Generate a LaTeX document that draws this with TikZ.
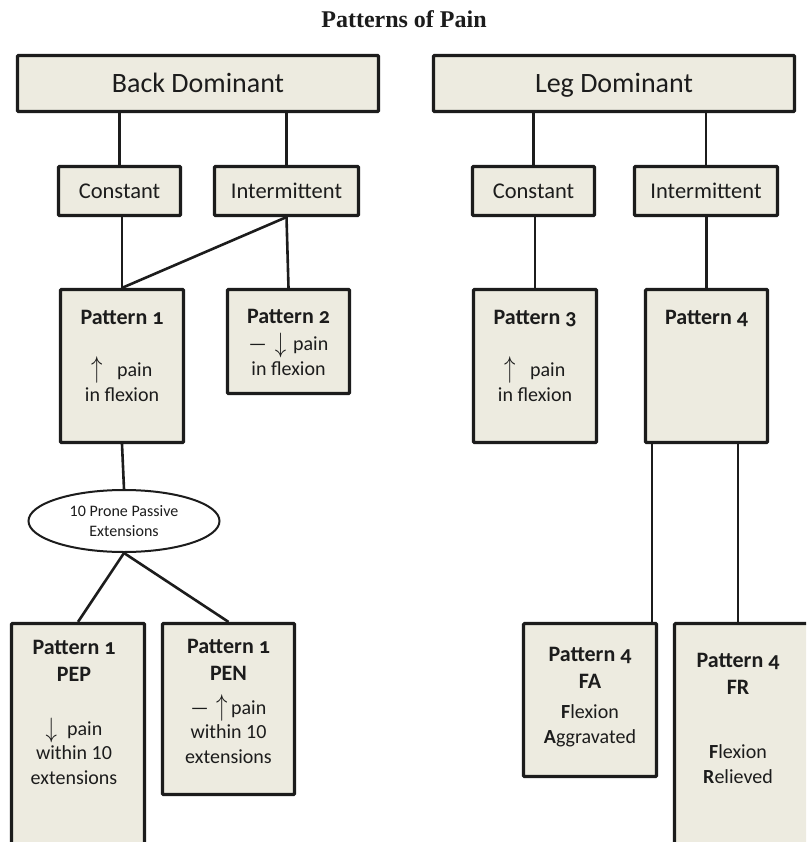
\documentclass[tikz,border=0pt]{standalone}
\usepackage{fontspec}
\setmainfont{Carlito}
\newfontfamily\titlefont{Liberation Serif}
\usetikzlibrary{shapes.geometric}

\definecolor{boxbg}{HTML}{EDEBE0}
\definecolor{ink}{HTML}{1C1C1C}

\newcommand{\ptl}[1]{{\fontsize{22}{24.5}\selectfont\bfseries\addfontfeatures{Numbers=OldStyle}#1}}
\newcommand{\upar}{\raisebox{-1pt}{\scalebox{1.1}[1.45]{$\uparrow$}}}
\newcommand{\dnar}{\raisebox{-2pt}{\scalebox{1.1}[1.35]{$\downarrow$}}}

\tikzset{
  pbox/.style={draw=ink, line width=3.2pt, fill=boxbg, rounded corners=1pt, inner sep=0pt, text=ink},
  headbox/.style={pbox, minimum width=361, minimum height=56, text height=19pt, text depth=0pt, font=\fontsize{28}{32}\selectfont},
  kindbox/.style={pbox, minimum height=49, font=\fontsize{22.5}{26}\selectfont},
  ptext/.style={align=center, inner sep=0pt, text=ink, font=\fontsize{20}{24.5}\selectfont},
  conn/.style={draw=ink, line width=2.6pt},
}

\begin{document}
\begin{tikzpicture}[x=1pt, y=-1pt]
\path[use as bounding box, fill=white] (0,0) rectangle (806,842);
\clip (0,0) rectangle (806,842);

% title
\node[font=\titlefont\bfseries\fontsize{24}{28}\selectfont, anchor=base, text=ink, inner sep=0pt] (ttl) at (404,28) {Patterns of Pain};

% boxes
\node[headbox] (bd) at (198,83.5) {Back Dominant};
\node[headbox] (ld) at (614,83.5) {Leg Dominant};

\node[kindbox, minimum width=122] (c1) at (119.5,191) {Constant};
\node[kindbox, minimum width=144] (i1) at (286.5,191) {Intermittent};
\node[kindbox, minimum width=122] (c2) at (533.5,191) {Constant};
\node[kindbox, minimum width=143] (i2) at (706,191) {Intermittent};

\node[pbox, minimum width=123, minimum height=153] (pat1) at (122,366) {};
\node[pbox, minimum width=122, minimum height=104] (pat2) at (288.5,341.5) {};
\node[pbox, minimum width=123, minimum height=153] (pat3) at (535,366) {};
\node[pbox, minimum width=122, minimum height=153] (pat4) at (706.5,366) {};

\node[ellipse, draw=ink, line width=2pt, fill=white, minimum width=191, minimum height=62, inner sep=0pt,
      align=center, text=ink, font=\fontsize{16}{20}\selectfont] (ppe) at (124,521) {10 Prone Passive\\Extensions};

\node[pbox, minimum width=133, minimum height=275] (pep) at (78,761) {};
\node[pbox, minimum width=132, minimum height=171] (pen) at (228.5,709) {};
\node[pbox, minimum width=133, minimum height=153] (fa) at (590,700) {};
\node[pbox, minimum width=164, minimum height=275] (fr) at (756.5,761) {};

% box texts (base = last line)
\node[ptext, anchor=base] (pat1-t) at (122,401) {\ptl{Pattern 1}\\[28pt]\upar\hspace{14pt}pain\\in flexion};
\node[ptext, anchor=base] (pat2-t) at (288.5,375) {\ptl{Pattern 2}\\[3pt]---\hspace{8pt}\dnar\hspace{7pt}pain\\in flexion};
\node[ptext, anchor=base] (pat3-t) at (535,401) {\ptl{Pattern 3}\\[28pt]\upar\hspace{14pt}pain\\in flexion};
\node[ptext, anchor=base] (pat4-t) at (706.5,324) {\ptl{Pattern 4}};
\node[ptext, anchor=base] (pep-t) at (74,784) {\ptl{Pattern 1}\\[3pt]\ptl{PEP}\\[29pt]\dnar\hspace{10pt}pain\\within 10\\extensions};
\node[ptext, anchor=base] (pen-t) at (228.5,763) {\ptl{Pattern 1}\\[3pt]\ptl{PEN}\\[9pt]---\hspace{8pt}\upar\hspace{3pt}pain\\within 10\\extensions};
\node[ptext, anchor=base] (fa-t) at (590,743) {\ptl{Pattern 4}\\[2.5pt]\ptl{FA}\\[6pt]\textbf{F}lexion\\\textbf{A}ggravated};
\node[ptext, anchor=base] (fr-t) at (738,783) {\ptl{Pattern 4}\\[2.5pt]\ptl{FR}\\[40pt]\textbf{F}lexion\\\textbf{R}elieved};

% connectors
\draw[conn] (c1.north) -- (c1.north |- bd.south);
\draw[conn] (i1.north) -- (i1.north |- bd.south);
\draw[conn] (c2.north) -- (c2.north |- ld.south);
\draw[conn] (i2.north) -- (i2.north |- ld.south);
\draw[conn] (pat1.north) -- (pat1.north |- c1.south);
\draw[conn] (i1.south) -- (pat1.north);
\draw[conn] (i1.south) -- (pat2.north);
\draw[conn] (pat3.north) -- (pat3.north |- c2.south);
\draw[conn] (pat4.north) -- (pat4.north |- i2.south);
\draw[conn] (pat1.south) -- (ppe.north);
\draw[conn] (ppe.south) -- (pep.north);
\draw[conn] (ppe.south) -- (pen.north);
\draw[conn] ([xshift=-6pt]fa.north east) -- ([xshift=-6pt]fa.north east |- pat4.south);
\draw[conn] ([xshift=65pt]fr.north west) -- ([xshift=65pt]fr.north west |- pat4.south);
\end{tikzpicture}
\end{document}
